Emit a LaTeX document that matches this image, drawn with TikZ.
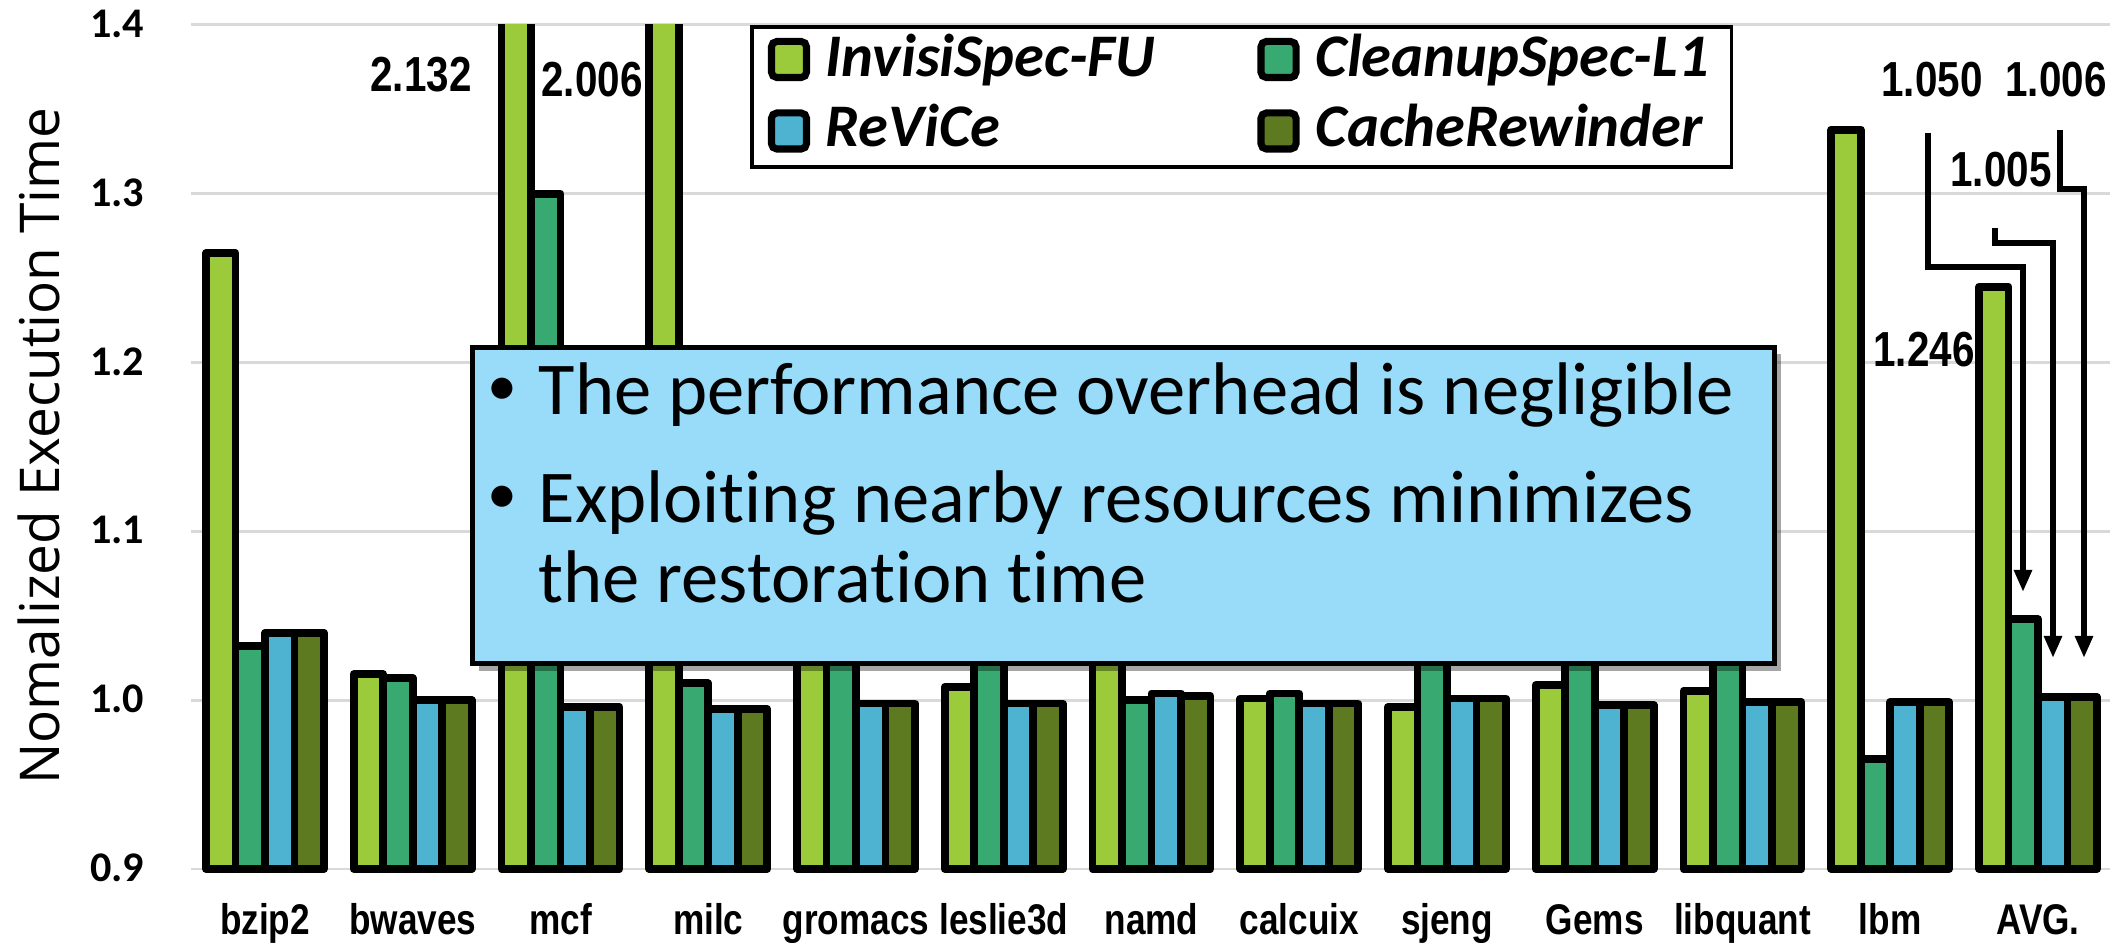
\documentclass[tikz,border=0pt]{standalone}
\usepackage{fontspec}
\setmainfont{Carlito}[Ligatures=CommonOff]
\newfontfamily\narrowf[FakeStretch=0.82]{Liberation Sans}
\newfontfamily\titlef{Open Sans}
\usetikzlibrary{arrows.meta,shadows}
\definecolor{isfu}{HTML}{9BCB3B}
\definecolor{csl}{HTML}{38A970}
\definecolor{rvc}{HTML}{4EB3D1}
\definecolor{crw}{HTML}{5E7A21}
\definecolor{boxblue}{HTML}{99DCF9}
\definecolor{gridc}{HTML}{D9D9D9}
\begin{document}
\begin{tikzpicture}[x=0.01cm,y=-0.01cm,
  bar/.style={draw=black,line width=2.2pt,line join=round},
  gridl/.style={draw=gridc,line width=0.85pt},
  ticklab/.style={font=\fontsize{12}{14}\selectfont\bfseries,anchor=base east,inner sep=0pt},
  catlab/.style={font=\narrowf\bfseries\fontsize{12.2}{14}\selectfont,anchor=base,inner sep=0pt},
  vallab/.style={font=\narrowf\bfseries\fontsize{14}{16}\selectfont,anchor=base,inner sep=0pt},
  legtext/.style={font=\fontsize{17.2}{20}\selectfont\bfseries\itshape,anchor=base west,inner sep=0pt},
  legmark/.style={draw=black,line width=2pt,rounded corners=1.5pt,minimum width=0.35cm,minimum height=0.36cm,inner sep=0pt},
  boxtext/.style={font=\fontsize{21.2}{25}\selectfont,anchor=base west,inner sep=0pt},
  bul/.style={font=\fontsize{17}{20}\selectfont,inner sep=0pt},
  msgbox/.style={draw=black,line width=1.4pt,fill=boxblue,inner sep=0pt,
     drop shadow={shadow xshift=2pt,shadow yshift=-2pt,opacity=0.35,fill=black}},
  ptr/.style={draw=black,line width=1.8pt,-{Triangle[width=0.17cm,length=0.22cm]}},
]
\useasboundingbox (0,0) rectangle (2126,943);
% grid
\foreach \k in {0,...,5}
  \draw[gridl] (191,{869-168.8*\k}) -- (2110,{869-168.8*\k});
% tick labels
\node[ticklab] (t09) at (145,882) {0.9};
\node[ticklab] (t10) at (145,713) {1.0};
\node[ticklab] (t11) at (145,544) {1.1};
\node[ticklab] (t12) at (145,376) {1.2};
\node[ticklab] (t13) at (145,207) {1.3};
\node[ticklab] (t14) at (145,38) {1.4};
% axis title
\node[font=\titlef\fontsize{15.6}{18}\selectfont,rotate=90,anchor=base,inner sep=0pt] (ytitle) at (60,446) {Nomalized Execution Time};
% bars
\begin{scope}
\clip (0,25) rectangle (2126,943);
\foreach \g/\a/\b/\c/\d in {
  0/1.265/1.032/1.040/1.040,
  1/1.0155/1.013/1.000/1.000,
  2/2.132/1.300/0.996/0.996,
  3/2.006/1.010/0.995/0.995,
  4/1.06/1.06/0.998/0.998,
  5/1.008/1.06/0.998/0.998,
  6/1.06/1.000/1.004/1.0025,
  7/1.001/1.004/0.998/0.998,
  8/0.996/1.06/1.001/1.001,
  9/1.009/1.06/0.997/0.997,
  10/1.0055/1.06/0.999/0.999,
  11/1.338/0.965/0.999/0.999,
  12/1.245/1.048/1.002/1.002}{
  \pgfmathsetmacro\gx{206+147.75*\g}
  \foreach \v/\col [count=\i from 0] in {\a/isfu,\b/csl,\c/rvc,\d/crw}{
    \filldraw[bar,fill=\col] ({\gx+29.5*\i},869) rectangle ({\gx+29.5*\i+29.5},{869-(\v-0.9)*1688});
  }
}
\end{scope}
% category labels
\foreach \k/\t in {0/bzip2,1/bwaves,2/mcf,3/milc,4/gromacs,5/leslie3d,6/namd,7/calcuix,8/sjeng,9/Gems,10/libquant,11/lbm,12/AVG.}
  \node[catlab] (c\k) at ({265+147.75*\k},935) {\t};
% message box
\node[msgbox,minimum width=13.01cm,minimum height=3.16cm,anchor=north west] (msg) at (470,345) {};
\node[bul] (b1) at (502,392) {•};
\node[boxtext] (m1) at (538,415) {The performance overhead is negligible};
\node[bul] (b2) at (502,500) {•};
\node[boxtext] (m2) at (538,523) {Exploiting nearby resources minimizes};
\node[boxtext] (m3) at (538,603) {the restoration time};
% legend
\node[draw=black,fill=white,line width=1.1pt,minimum width=9.79cm,minimum height=1.40cm,inner sep=0pt,anchor=north west] (leg) at (750,25) {};
\node[legmark,fill=isfu] (k1) at (789,59.5) {};
\node[legtext] (l1) at (825,77) {InvisiSpec-FU};
\node[legmark,fill=rvc] (k3) at (789,131) {};
\node[legtext] (l3) at (825,147) {ReViCe};
\node[legmark,fill=csl] (k2) at (1278.5,59.5) {};
\node[legtext] (l2) at (1315,77) {CleanupSpec-L1};
\node[legmark,fill=crw] (k4) at (1278.5,131) {};
\node[legtext] (l4) at (1315,147) {CacheRewinder};
% value labels
\node[vallab] (v1) at (421,92) {2.132};
\node[vallab] (v2) at (592,97) {2.006};
\node[vallab] (v3) at (1932,97) {1.050};
\node[vallab] (v4) at (2056,97) {1.006};
\node[vallab] (v5) at (2001,187) {1.005};
\node[vallab] (v6) at (1924,367) {1.246};
% pointers
\coordinate (p1s) at (1928,133);
\coordinate (p1b) at (2023,267);
\coordinate (p1e) at (2023,592);
\coordinate (p2s) at (1995,228);
\coordinate (p2b) at (2053,243);
\coordinate (p2e) at (2053,658);
\coordinate (p3s) at (2060,130);
\coordinate (p3b) at (2084,189);
\coordinate (p3e) at (2084,658);
\draw[ptr] (p1s) |- (p1b) -- (p1e);
\draw[ptr] (p2s) |- (p2b) -- (p2e);
\draw[ptr] (p3s) |- (p3b) -- (p3e);
\end{tikzpicture}
\end{document}
